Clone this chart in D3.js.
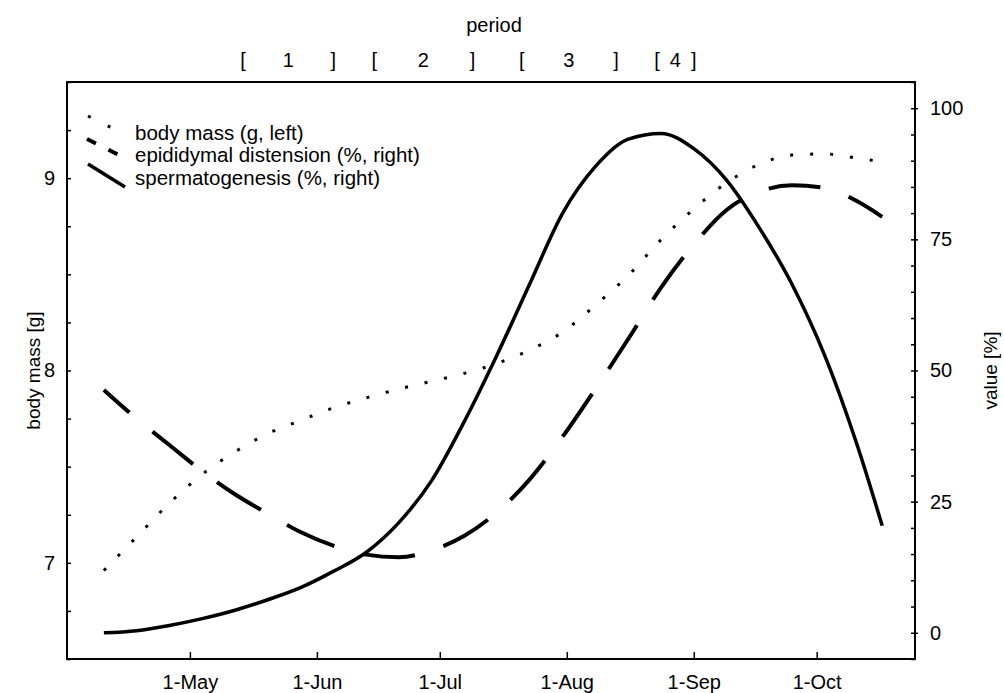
<!DOCTYPE html>
<html>
<head>
<meta charset="utf-8">
<script src="https://cdn.jsdelivr.net/npm/d3@7"></script>
<style>
  html, body { margin: 0; padding: 0; background: #fff; }
  svg text { font-family: "Liberation Sans", Arial, sans-serif; fill: #000; }
</style>
</head>
<body>
<div id="chart"></div>
<script>
// Sampling dates (every 8 days through the season)
const sampleDates = [
  "2001-04-10","2001-04-18","2001-04-26","2001-05-04","2001-05-12","2001-05-20",
  "2001-05-28","2001-06-05","2001-06-13","2001-06-21","2001-06-29","2001-07-07",
  "2001-07-15","2001-07-23","2001-07-31","2001-08-08","2001-08-16","2001-08-24",
  "2001-09-01","2001-09-09","2001-09-17","2001-09-25","2001-10-03","2001-10-11",
  "2001-10-17"
];
// Body mass in grams (left axis)
const bodyMass = [
  6.96, 7.135, 7.31, 7.46, 7.577, 7.672, 7.74, 7.806, 7.857, 7.904, 7.944, 7.985,
  8.037, 8.107, 8.20, 8.34, 8.494, 8.68, 8.84, 8.976, 9.072, 9.12, 9.126, 9.104, 9.085
];
// Epididymal distension in % (right axis)
const epididymal = [
  46.3, 40.8, 35.8, 30.8, 26.4, 22.7, 19.2, 16.6, 14.9, 14.4, 15.7, 18.5,
  23.0, 29.3, 37.4, 46.5, 56.0, 65.8, 74.0, 80.6, 84.1, 85.3, 84.8, 82.2, 79.3
];
// Spermatogenesis in % (right axis)
const spermatogenesis = [
  0, 0.4, 1.4, 2.7, 4.3, 6.3, 8.6, 11.7, 15.3, 21.0, 29.0, 40.3,
  53.0, 66.6, 80.0, 88.9, 94.1, 95.2, 92.3, 86.3, 77.2, 66.4, 52.8, 35.5, 20.4
];
// Reproductive periods shown above the plot
const periodLabels = ["1", "2", "3", "4"];
const periodStart = ["2001-05-14", "2001-06-15", "2001-07-21", "2001-08-23"];
const periodEnd   = ["2001-06-05", "2001-07-09", "2001-08-13", "2001-09-01"];
// Axis ticks
const monthTicks = ["2001-05-01","2001-06-01","2001-07-01","2001-08-01","2001-09-01","2001-10-01"];
const massTicks = [7, 8, 9];
const percentTicks = [0, 25, 50, 75, 100];
const legendLabels = ["body mass (g, left)", "epididymal distension (%, right)", "spermatogenesis (%, right)"];

const W = 1004, H = 693;
const M = { left: 67, right: 915, top: 82, bottom: 659 };
const parse = d3.timeParse("%Y-%m-%d");
const dates = sampleDates.map(parse);

const svg = d3.select("#chart").append("svg")
  .attr("width", W).attr("height", H);

const x = d3.scaleTime()
  .domain([parse("2001-04-01"), parse("2001-10-25")])
  .range([M.left, M.right]);
const yL = d3.scaleLinear().domain([6.5, 9.5]).range([M.bottom, M.top]);
const yR = d3.scaleLinear().domain([-5, 105]).range([M.bottom, M.top]);

const fs = 20;

// Bottom axis: ticks point into the plot
const xAxis = d3.axisBottom(x)
  .tickValues(monthTicks.map(parse))
  .tickFormat(d3.timeFormat("1-%b"))
  .tickSizeInner(-7).tickSizeOuter(0);
svg.append("g").attr("transform", `translate(0,${M.bottom})`).call(xAxis)
  .call(g => g.select(".domain").remove())
  .call(g => g.selectAll("line").attr("stroke", "#000").attr("stroke-width", 1.5))
  .call(g => g.selectAll("text")
    .attr("font-size", fs)
    .attr("y", 23).attr("dy", null)
    .attr("dominant-baseline", "central"));

// Left axis: minor ticks every 0.25 g
const leftMinor = d3.range(6.5, 9.51, 0.25);
svg.append("g").attr("transform", `translate(${M.left},0)`)
  .call(d3.axisLeft(yL).tickValues(leftMinor).tickSizeInner(-4).tickSizeOuter(0).tickFormat(""))
  .call(g => g.select(".domain").remove())
  .call(g => g.selectAll("line").attr("stroke", "#000").attr("stroke-width", 1.5));
svg.append("g").attr("transform", `translate(${M.left},0)`)
  .call(d3.axisLeft(yL).tickValues(massTicks).tickSize(0).tickPadding(12).tickFormat(d3.format("d")))
  .call(g => g.select(".domain").remove())
  .call(g => g.selectAll("text").attr("font-size", fs));

// Right axis: minor ticks every 5 %
const rightMinor = d3.range(-5, 105.1, 5);
svg.append("g").attr("transform", `translate(${M.right},0)`)
  .call(d3.axisRight(yR).tickValues(rightMinor).tickSizeInner(-4).tickSizeOuter(0).tickFormat(""))
  .call(g => g.select(".domain").remove())
  .call(g => g.selectAll("line").attr("stroke", "#000").attr("stroke-width", 1.5));
svg.append("g").attr("transform", `translate(${M.right},0)`)
  .call(d3.axisRight(yR).tickValues(percentTicks).tickSize(3).tickPadding(12).tickFormat(d3.format("d")))
  .call(g => g.select(".domain").remove())
  .call(g => g.selectAll("line").attr("stroke", "#000").attr("stroke-width", 1.5))
  .call(g => g.selectAll("text").attr("font-size", fs));

// Plot frame
svg.append("rect")
  .attr("x", M.left).attr("y", M.top)
  .attr("width", M.right - M.left).attr("height", M.bottom - M.top)
  .attr("fill", "none").attr("stroke", "#000").attr("stroke-width", 2);

// Axis titles
svg.append("text")
  .attr("transform", `translate(33,${(M.top + M.bottom) / 2}) rotate(-90)`)
  .attr("text-anchor", "middle").attr("dominant-baseline", "central")
  .attr("font-size", fs - 1).text("body mass [g]");
svg.append("text")
  .attr("transform", `translate(990,${(M.top + M.bottom) / 2}) rotate(-90)`)
  .attr("text-anchor", "middle").attr("dominant-baseline", "central")
  .attr("font-size", fs - 1).text("value [%]");

// Period header
svg.append("text")
  .attr("x", 494).attr("y", 25)
  .attr("text-anchor", "middle").attr("dominant-baseline", "central")
  .attr("font-size", fs).text("period");
const header = svg.append("g");
periodLabels.forEach((lab, i) => {
  const s = x(parse(periodStart[i])), e = x(parse(periodEnd[i]));
  header.append("text").attr("x", s).attr("y", 60).attr("text-anchor", "middle")
    .attr("dominant-baseline", "central").attr("font-size", fs).text("[");
  header.append("text").attr("x", (s + e) / 2).attr("y", 60).attr("text-anchor", "middle")
    .attr("dominant-baseline", "central").attr("font-size", fs).text(lab);
  header.append("text").attr("x", e).attr("y", 60).attr("text-anchor", "middle")
    .attr("dominant-baseline", "central").attr("font-size", fs).text("]");
});

// Series lines
const styles = [
  { width: 3, dash: "3,17", offset: 0 },
  { width: 4, dash: "52,30", offset: 18 },
  { width: 3.5, dash: null, offset: 0 }
];
const series = [
  { values: bodyMass, y: yL, style: styles[0] },
  { values: epididymal, y: yR, style: styles[1] },
  { values: spermatogenesis, y: yR, style: styles[2] }
];
const plot = svg.append("g");
series.forEach(s => {
  const line = d3.line()
    .x((d, i) => x(dates[i]))
    .y(d => s.y(d))
    .curve(d3.curveMonotoneX);
  plot.append("path")
    .datum(s.values)
    .attr("d", line)
    .attr("fill", "none")
    .attr("stroke", "#000")
    .attr("stroke-width", s.style.width)
    .attr("stroke-dasharray", s.style.dash)
    .attr("stroke-dashoffset", s.style.offset);
});

// Legend with slanted sample strokes
const legendRows = [
  { x1: 88, y1: 116, x2: 122, y2: 133 },
  { x1: 87, y1: 139, x2: 121, y2: 156 },
  { x1: 88, y1: 164, x2: 125, y2: 187 }
];
const legendDash = ["3,19", "10,14", null];
const legend = svg.append("g");
legendLabels.forEach((lab, i) => {
  const r = legendRows[i];
  legend.append("line")
    .attr("x1", r.x1).attr("y1", r.y1).attr("x2", r.x2).attr("y2", r.y2)
    .attr("stroke", "#000").attr("stroke-width", styles[i].width)
    .attr("stroke-dasharray", legendDash[i]);
  legend.append("text")
    .attr("x", 135).attr("y", 132 + i * 22.5)
    .attr("dominant-baseline", "central")
    .attr("font-size", 20.5).text(lab);
});
</script>
</body>
</html>
